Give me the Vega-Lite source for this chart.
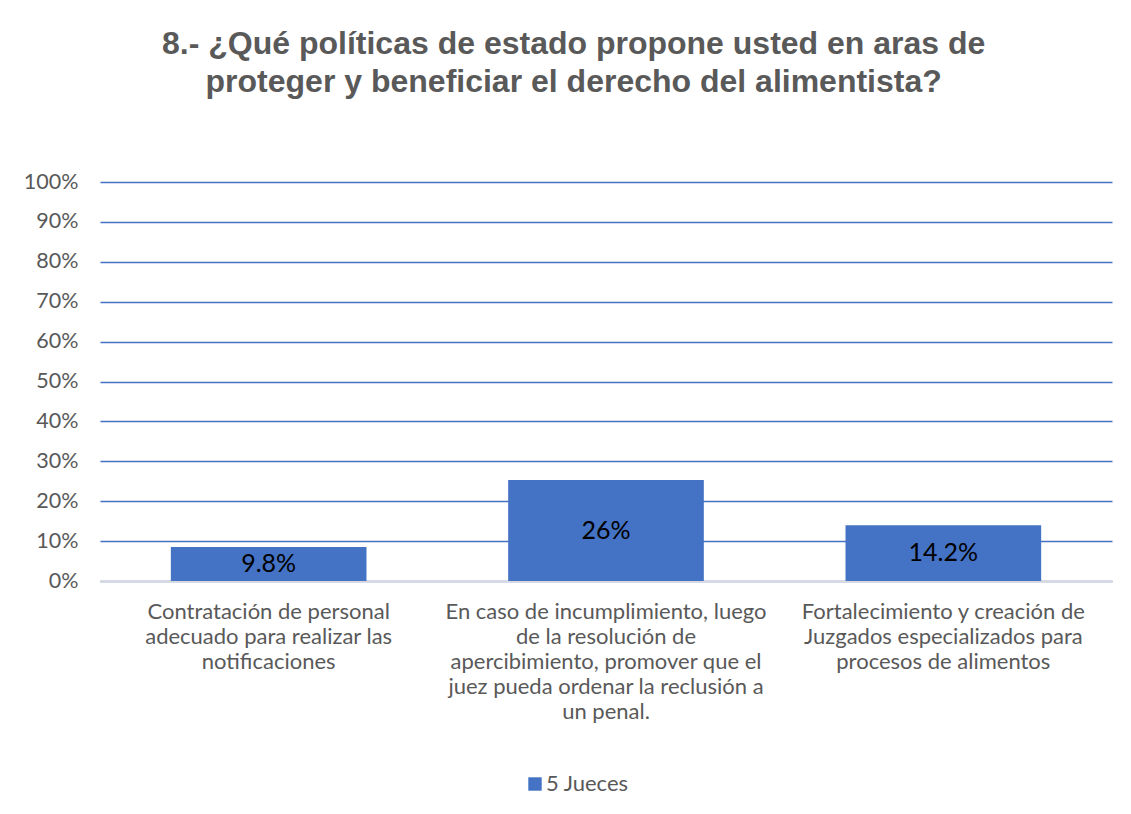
{
  "$schema": "https://vega.github.io/schema/vega-lite/v6.json",
  "width": 1012,
  "height": 399,
  "padding": {"left": 23, "top": 28, "right": 19, "bottom": 10},
  "background": "white",
  "title": {
    "text": ["8.- ¿Qué políticas de estado propone usted en aras de", "proteger y beneficiar el derecho del alimentista?"],
    "font": "Liberation Sans",
    "fontSize": 32,
    "fontWeight": "bold",
    "color": "#595959",
    "lineHeight": 38,
    "anchor": "middle",
    "frame": "bounds",
    "dx": 6,
    "offset": 72
  },
  "data": {
    "values": [
      {"categoria": "Contratación de personal|adecuado para realizar las|notificaciones", "valor": 0.085, "etiqueta": "9.8%", "serie": "5 Jueces"},
      {"categoria": "En caso de incumplimiento, luego|de la resolución de|apercibimiento, promover que el|juez pueda ordenar la reclusión a|un penal.", "valor": 0.253, "etiqueta": "26%", "serie": "5 Jueces"},
      {"categoria": "Fortalecimiento y creación de|Juzgados especializados para|procesos de alimentos", "valor": 0.14, "etiqueta": "14.2%", "serie": "5 Jueces"}
    ]
  },
  "encoding": {
    "x": {
      "field": "categoria",
      "type": "nominal",
      "sort": null,
      "scale": {"paddingInner": 0.42, "paddingOuter": 0.21},
      "axis": {
        "title": null,
        "labelAngle": 0,
        "labelExpr": "split(datum.value, '|')",
        "labelFont": "Lato",
        "labelFontSize": 22,
        "labelColor": "#595959",
        "labelLineHeight": 25,
        "labelPadding": 20,
        "labelLimit": 400,
        "ticks": false,
        "domain": true,
        "domainColor": "#D9D9D9",
        "domainWidth": 1.5,
        "grid": false,
        "zindex": 0
      }
    }
  },
  "layer": [
    {
      "mark": {"type": "bar", "color": "#4472C4"},
      "encoding": {
        "y": {
          "field": "valor",
          "type": "quantitative",
          "scale": {"domain": [0, 1]},
          "axis": {
            "title": null,
            "format": ".0%",
            "values": [0, 0.1, 0.2, 0.3, 0.4, 0.5, 0.6, 0.7, 0.8, 0.9, 1],
            "tickCount": 12,
            "labelFont": "Lato",
            "labelFontSize": 21.5,
            "labelColor": "#595959",
            "labelPadding": 22,
            "labelOverlap": false,
            "ticks": false,
            "domain": false,
            "grid": true,
            "gridColor": "#4472C4",
            "gridWidth": 1.5
          }
        },
        "color": {
          "field": "serie",
          "type": "nominal",
          "scale": {"range": ["#4472C4"]},
          "legend": {
            "title": null,
            "orient": "none",
            "legendX": 424,
            "legendY": 591,
            "symbolType": "square",
            "symbolSize": 180,
            "labelOffset": 0,
            "labelFont": "Lato",
            "labelFontSize": 22,
            "labelColor": "#595959"
          }
        }
      }
    },
    {
      "transform": [{"calculate": "datum.valor / 2", "as": "medio"}],
      "mark": {"type": "text", "font": "Lato", "fontSize": 25, "color": "#000000", "baseline": "middle"},
      "encoding": {
        "y": {"field": "medio", "type": "quantitative"},
        "text": {"field": "etiqueta", "type": "nominal"}
      }
    }
  ],
  "config": {
    "view": {"stroke": null}
  }
}
